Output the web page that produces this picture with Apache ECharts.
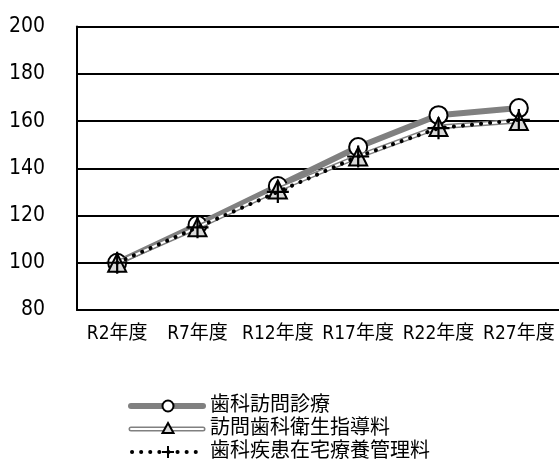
<!DOCTYPE html>
<html>
<head>
    <meta charset="UTF-8">
    <title></title>
    <script src="https://cdn.jsdelivr.net/npm/echarts@6/dist/echarts.min.js"></script>
    <style>
        * { padding: 0; margin: 0; }
        body { background: #fff; }
        #main { width: 559px; height: 466px; }
    </style>
</head>
<body>
    <div id="main"></div>
<script>
    var categories = ['R2年度', 'R7年度', 'R12年度', 'R17年度', 'R22年度', 'R27年度'];
    var seriesNames = ['歯科訪問診療', '訪問歯科衛生指導料', '歯科疾患在宅療養管理料'];
    var visitCare = [100, 116, 132.5, 149, 162.5, 165.5];      // 歯科訪問診療
    var hygieneGuide = [100, 115, 131, 145, 157.5, 160];       // 訪問歯科衛生指導料
    var homeManage = [100, 115, 130, 145, 157, 160.5];         // 歯科疾患在宅療養管理料
    var yTicks = { min: 80, max: 200, interval: 20 };

    var FONT = '"DejaVu Sans Condensed", "Noto Sans CJK JP", sans-serif';
    var PLUS = 'path://M9,0 L11,0 L11,9 L20,9 L20,11 L11,11 L11,20 L9,20 L9,11 L0,11 L0,9 L9,9 Z';

    var chart = echarts.init(document.getElementById('main'));

    // legend drawn by hand (the double line can't be done with the built-in legend)
    function legendRow(y, i) {
        var els = [];
        if (i == 0) {
            els.push({ type: 'line', shape: { x1: 131, y1: y, x2: 203, y2: y }, style: { stroke: '#808080', lineWidth: 6, lineCap: 'round' } });
            els.push({ type: 'circle', shape: { cx: 168, cy: y, r: 5.5 }, style: { fill: '#fff', stroke: '#000', lineWidth: 2 } });
        } else if (i == 1) {
            els.push({ type: 'line', shape: { x1: 131, y1: y, x2: 203, y2: y }, style: { stroke: '#808080', lineWidth: 5, lineCap: 'round' } });
            els.push({ type: 'line', shape: { x1: 131, y1: y, x2: 203, y2: y }, style: { stroke: '#fff', lineWidth: 2, lineCap: 'round' } });
            els.push({ type: 'polygon', shape: { points: [[168, y - 6], [173.5, y + 4], [162.5, y + 4]] }, style: { fill: '#d9d9d9', stroke: '#000', lineWidth: 2 } });
        } else {
            els.push({ type: 'line', shape: { x1: 132, y1: y, x2: 203, y2: y }, style: { stroke: '#000', lineWidth: 4, lineCap: 'round', lineDash: [0.1, 9] } });
            els.push({ type: 'line', shape: { x1: 162, y1: y, x2: 174, y2: y }, style: { stroke: '#000', lineWidth: 2 } });
            els.push({ type: 'line', shape: { x1: 168, y1: y - 6, x2: 168, y2: y + 6 }, style: { stroke: '#000', lineWidth: 2 } });
        }
        els.push({ type: 'text', x: 210, y: y, style: { text: seriesNames[i], fill: '#000', font: '20px ' + FONT, verticalAlign: 'middle' } });
        return els;
    }

    var legendEls = [].concat(legendRow(406, 0), legendRow(429, 1), legendRow(452, 2));

    var option = {
        animation: false,
        grid: { left: 77, top: 26.6, width: 484.6, height: 283.4 },
        xAxis: {
            type: 'category',
            data: categories,
            boundaryGap: true,
            axisLine: { lineStyle: { color: '#000', width: 2 } },
            axisTick: { show: false },
            axisLabel: { color: '#000', fontSize: 19, fontFamily: FONT, margin: 15, interval: 0 }
        },
        yAxis: {
            type: 'value',
            min: yTicks.min,
            max: yTicks.max,
            interval: yTicks.interval,
            axisLine: { show: true, lineStyle: { color: '#000', width: 2 } },
            axisTick: { show: false },
            axisLabel: { color: '#000', fontSize: 21, fontFamily: FONT, margin: 32 },
            splitLine: { lineStyle: { color: '#000', width: 2 } }
        },
        graphic: legendEls,
        series: [
            {
                name: seriesNames[0],
                type: 'line',
                data: visitCare,
                lineStyle: { color: '#808080', width: 6 },
                symbol: 'circle',
                symbolSize: 18,
                itemStyle: { color: '#fff', borderColor: '#000', borderWidth: 2 },
                z: 2
            },
            {   // gray outline under the white line
                name: 'outline',
                type: 'line',
                data: hygieneGuide,
                lineStyle: { color: '#808080', width: 5 },
                symbol: 'none',
                silent: true,
                z: 3
            },
            {
                name: seriesNames[1],
                type: 'line',
                data: hygieneGuide,
                lineStyle: { color: '#fff', width: 2 },
                symbol: 'triangle',
                symbolSize: 18,
                itemStyle: { color: '#d9d9d9', borderColor: '#000', borderWidth: 2 },
                z: 4
            },
            {
                name: seriesNames[2],
                type: 'line',
                data: homeManage,
                lineStyle: { color: '#000', width: 4, type: [0.1, 9], cap: 'round' },
                symbol: PLUS,
                symbolSize: 22,
                itemStyle: { color: '#000', borderWidth: 0 },
                z: 5
            }
        ]
    };

    chart.setOption(option);
</script>
</body>
</html>
